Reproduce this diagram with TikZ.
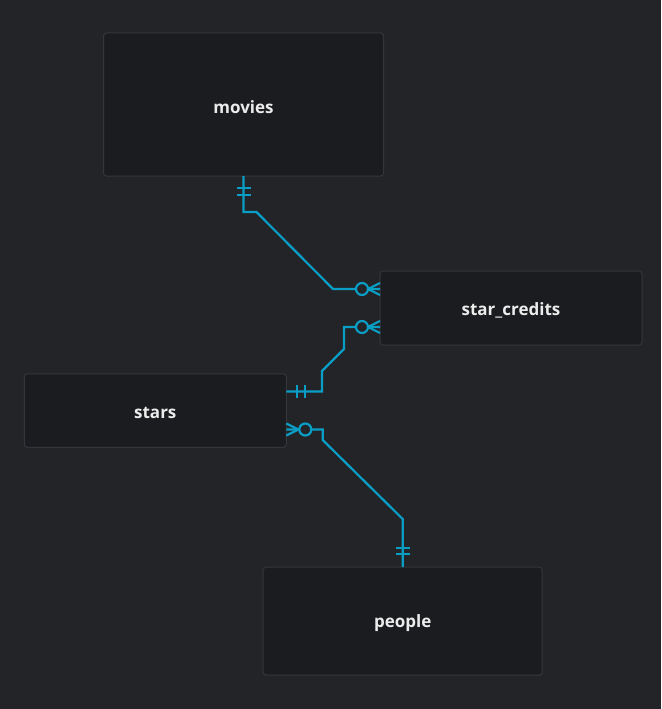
\documentclass[tikz,border=0pt]{standalone}
\usepackage{fontspec}
\setmainfont{Open Sans}
\usetikzlibrary{positioning}
\definecolor{bgcol}{HTML}{232428}
\definecolor{boxcol}{HTML}{1B1C1F}
\definecolor{edgecol}{HTML}{34363B}
\definecolor{linkcol}{HTML}{0A9EC6}
\definecolor{textcol}{HTML}{ECECEC}
\tikzset{
	table/.style={rectangle, rounded corners=3pt, draw=edgecol, line width=1pt, fill=boxcol, outer sep=0pt, inner sep=0pt},
	tablename/.style={text=textcol, font=\fontsize{17}{20}\selectfont\bfseries, yshift=-2.5pt},
	link/.style={draw=linkcol, line width=2.2pt},
	ring/.style={draw=linkcol, line width=2.2pt, fill=bgcol}
}

\begin{document}
\begin{tikzpicture}[x=1pt,y=-1pt]
			\fill [bgcol] (0,0) rectangle (661,709);
			\useasboundingbox (0,0) rectangle (661,709);
			% tables
			\node [table, minimum width=280pt, minimum height=143pt] (movies) at (243.5,104.5) {};
			\node [table, minimum width=262pt, minimum height=74pt] (credits) at (511,308) {};
			\node [table, minimum width=262pt, minimum height=73.5pt] (stars) at (155.3,410.5) {};
			\node [table, minimum width=279pt, minimum height=108pt] (people) at (402.7,621) {};
			\node [tablename] (movies-name) at (movies.center) {movies};
			\node [tablename] (credits-name) at (credits.center) {star\_credits};
			\node [tablename] (stars-name) at (stars.center) {stars};
			\node [tablename] (people-name) at (people.center) {people};
			% end points
			\coordinate (c1) at ([yshift=19pt]credits.west);
			\coordinate (c2) at ([yshift=-19pt]credits.west);
			\coordinate (s1) at ([yshift=19pt]stars.east);
			\coordinate (s2) at ([yshift=-19pt]stars.east);
			% movies -- star_credits
			\draw [link] (movies.south) -- ++(0,36) -- ++(13,0) -- (333,289) -- (c1);
			\draw [link] ([yshift=-12pt]movies.south) ++(-7,0) -- ++(14,0);
			\draw [link] ([yshift=-19pt]movies.south) ++(-7,0) -- ++(14,0);
			\draw [link] ([xshift=-12pt]c1) -- ++(12,-6);
			\draw [link] ([xshift=-12pt]c1) -- ++(12,6);
			\draw [ring] ([xshift=-18pt]c1) circle (6);
			% stars -- star_credits
			\draw [link] (c2) -- (344,327) -- (344,349) -- (322,371) -- (322,391.5) -- (s1);
			\draw [link] ([xshift=11pt]s1) ++(0,-6.5) -- ++(0,13);
			\draw [link] ([xshift=19pt]s1) ++(0,-6.5) -- ++(0,13);
			\draw [link] ([xshift=-12pt]c2) -- ++(12,-6);
			\draw [link] ([xshift=-12pt]c2) -- ++(12,6);
			\draw [ring] ([xshift=-18pt]c2) circle (6);
			% stars -- people
			\draw [link] (s2) -- (322.7,429.5) -- (322.7,440) -- (402.7,519) -- (people.north);
			\draw [link] ([yshift=13pt]people.north) ++(-7,0) -- ++(14,0);
			\draw [link] ([yshift=19pt]people.north) ++(-7,0) -- ++(14,0);
			\draw [link] ([xshift=12pt]s2) -- ++(-12,-6);
			\draw [link] ([xshift=12pt]s2) -- ++(-12,6);
			\draw [ring] ([xshift=19pt]s2) circle (6);
		\end{tikzpicture}
\end{document}
